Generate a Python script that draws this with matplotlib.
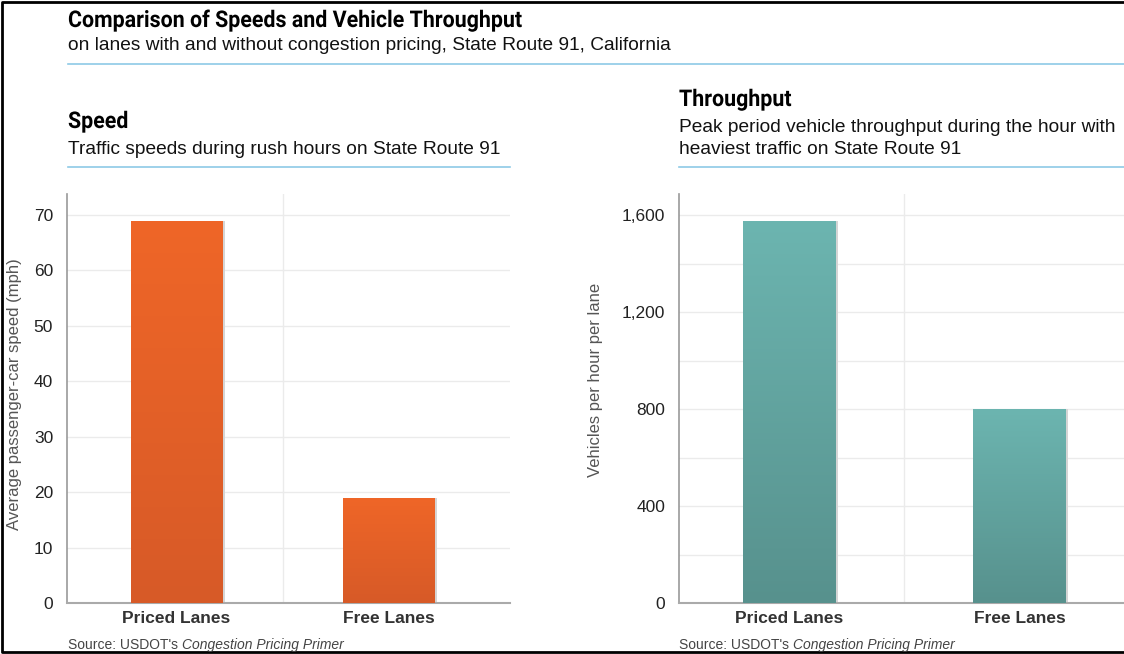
import numpy as np
import matplotlib
matplotlib.use("Agg")
import matplotlib.pyplot as plt
from matplotlib.patches import Rectangle, PathPatch
from matplotlib.lines import Line2D
from matplotlib.ticker import FuncFormatter
from matplotlib.textpath import TextPath
from matplotlib.font_manager import FontProperties
from matplotlib.transforms import Affine2D, IdentityTransform

# data
categories = ["Priced Lanes", "Free Lanes"]
speed_mph = [69, 19]
throughput_vph = [1575, 800]

speed_ticks = [0, 10, 20, 30, 40, 50, 60, 70]
throughput_ticks = [0, 400, 800, 1200, 1600]

W, H = 1124, 654
fig = plt.figure(figsize=(W / 100, H / 100), dpi=100)

BODY = ["Liberation Sans", "DejaVu Sans"]
BLUE = "#8ecae6"
HEAD_PROP = FontProperties(family="Roboto", weight="bold")


def fx(x):
    return x / W


def fy(y):
    return 1 - y / H


def txt(x, y, s, **kw):
    return fig.text(fx(x), fy(y), s, va="center", ha="left", **kw)


def heading(x, baseline, s, size=23, sx=0.93):
    # condensed bold heading, drawn as a squeezed text path (pixel units)
    path = TextPath((0, 0), s, size=size, prop=HEAD_PROP)
    tr = Affine2D().scale(sx, 1).translate(x, H - baseline)
    fig.add_artist(PathPatch(tr.transform_path(path), color="black", lw=0,
                             transform=IdentityTransform()))


def rule(x0, x1, y):
    fig.add_artist(Line2D([fx(x0), fx(x1)], [fy(y), fy(y)], color=BLUE, lw=1.2,
                          transform=fig.transFigure))


def gradient_bars(ax, values, width, top_col, bot_col):
    bars = ax.bar(range(len(values)), values, width=width, color="none", zorder=3)
    cmap = matplotlib.colors.LinearSegmentedColormap.from_list("g", [bot_col, top_col])
    grad = np.linspace(0, 1, 256).reshape(-1, 1)
    for b in bars:
        x0, y0 = b.get_x(), b.get_y()
        im = ax.imshow(grad, cmap=cmap, origin="lower", aspect="auto",
                       extent=[x0, x0 + b.get_width(), y0, y0 + b.get_height()], zorder=3)
        im.set_clip_path(b)
        # faint shadow on the right edge
        ax.add_patch(Rectangle((x0 + b.get_width(), 0), 0.012, b.get_height(),
                               color="#d5d5d5", zorder=2, lw=0))


def style_axes(ax, ticks, xlim, ylim, fmt, ylabel, minor):
    ax.set_xlim(*xlim)
    ax.set_ylim(*ylim)
    ax.set_yticks(ticks)
    ax.set_yticks(minor, minor=True)
    ax.yaxis.set_major_formatter(FuncFormatter(fmt))
    ax.tick_params(axis="y", length=0, labelsize=12.5, labelcolor="#222222", pad=10,
                   which="both")
    ax.tick_params(axis="x", length=0, pad=6)
    ax.set_xticks(range(len(categories)))
    ax.set_xticklabels(categories, fontsize=12.5, fontweight="bold", color="#333333",
                       family=BODY)
    for lab in ax.get_yticklabels():
        lab.set_family(BODY)
    ax.grid(axis="y", which="both", color="#ebebeb", lw=1, zorder=0)
    ax.axvline(0.5, color="#ebebeb", lw=1, zorder=0)
    for s in ["top", "right"]:
        ax.spines[s].set_visible(False)
    ax.spines["left"].set_color("#999999")
    ax.spines["bottom"].set_color("#aaaaaa")
    ax.spines["left"].set_linewidth(1.2)
    ax.spines["bottom"].set_linewidth(1.5)
    ax.set_ylabel(ylabel, fontsize=12, color="#555555", family=BODY)


# speed panel
ax1 = fig.add_axes([fx(67), fy(603), fx(510) - fx(67), fy(194) - fy(603)])
gradient_bars(ax1, speed_mph, 0.43, "#ef6627", "#d75a28")
style_axes(ax1, speed_ticks, (-0.515, 1.57), (0, 73.8), lambda v, p: f"{v:.0f}",
           "Average passenger-car speed (mph)", list(range(0, 71, 10)))
ax1.yaxis.set_label_coords((22 - 67) / 443, (603 - 394) / 409)

# throughput panel
ax2 = fig.add_axes([fx(679), fy(603), fx(1146) - fx(679), fy(194) - fy(603)])
gradient_bars(ax2, throughput_vph, 0.40, "#6cb5b0", "#57918d")
style_axes(ax2, throughput_ticks, (-0.48, 1.55), (0, 1687), lambda v, p: f"{v:,.0f}",
           "Vehicles per hour per lane", list(range(0, 1601, 200)))
ax2.yaxis.set_label_coords((603 - 679) / 467, (603 - 380) / 409)

# titles and notes
heading(68, 27, "Comparison of Speeds and Vehicle Throughput")
txt(68, 46, "on lanes with and without congestion pricing, State Route 91, California",
    fontsize=13.8, family=BODY, color="#111111")
rule(68, W, 64)

heading(68, 128, "Speed")
txt(68, 150, "Traffic speeds during rush hours on State Route 91", fontsize=13.8,
    family=BODY, color="#111111")
rule(68, 510, 167)

heading(679, 106, "Throughput")
txt(679, 128, "Peak period vehicle throughput during the hour with", fontsize=13.8,
    family=BODY, color="#111111")
txt(679, 150, "heaviest traffic on State Route 91", fontsize=13.8, family=BODY,
    color="#111111")
rule(679, W, 167)

renderer = fig.canvas.get_renderer()
for x in (68, 679):
    t = txt(x, 645, "Source: USDOT's ", fontsize=10, color="#444444", family=BODY)
    bb = t.get_window_extent(renderer)
    fig.text(bb.x1 / W, fy(645), "Congestion Pricing Primer", fontsize=10,
             color="#444444", family=BODY, style="italic", va="center")

# outer frame (open on the right, like the cropped original)
fig.add_artist(Line2D([fx(W + 5), fx(1.5), fx(1.5), fx(W + 5)],
                      [fy(1.5), fy(1.5), fy(651.5), fy(651.5)],
                      color="black", lw=2, transform=fig.transFigure))

fig.savefig("out.png", dpi=100)
